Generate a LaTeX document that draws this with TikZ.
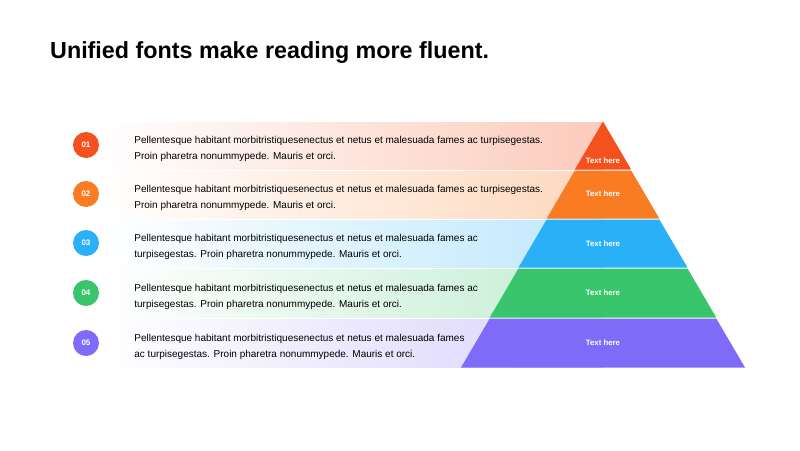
\documentclass[tikz,border=0pt]{standalone}
\usepackage{fontspec}
\setmainfont{Liberation Sans}
\usetikzlibrary{positioning}
\definecolor{tierA}{HTML}{F4511E}
\definecolor{tierB}{HTML}{F97C22}
\definecolor{tierC}{HTML}{29B0F7}
\definecolor{tierD}{HTML}{39C56B}
\definecolor{tierE}{HTML}{7F6BF7}
\begin{document}
\begin{tikzpicture}[
  x=1pt, y=-1pt,
  badge/.style={circle, minimum size=26pt, inner sep=0pt, text=white,
    font=\fontsize{8}{9}\selectfont\bfseries},
  bodytext/.style={anchor=west, align=left, inner sep=0pt,
    font=\fontsize{10}{16}\selectfont},
  tierlabel/.style={text=white, inner sep=0pt, font=\fontsize{7.8}{9}\selectfont\bfseries},
  headline/.style={anchor=west, inner sep=0pt, font=\fontsize{23.3}{28}\selectfont\bfseries}
]
\useasboundingbox (0,0) rectangle (800,450);

% Title
\node[headline] (title) at (50,53) {Unified fonts make reading more fluent.};

% Gradient bands behind the text
\foreach \top/\bot/\col in {121/170/tierA, 170/219/tierB, 219/268/tierC, 268/318/tierD, 318/368/tierE} {
  \shade[left color=white, right color=\col!30] (100,\top+1) rectangle (603,\bot-1);
}

% Pyramid tiers
\foreach \top/\bot/\col in {121/170/tierA, 170/219/tierB, 219/268/tierC, 268/318/tierD, 318/368/tierE} {
  \pgfmathsetmacro\wt{0.5749*(\top-121)}
  \pgfmathsetmacro\wb{0.5749*(\bot-121)}
  \fill[\col] (603-\wt,\top+0.5) -- (603+\wt,\top+0.5) -- (603+\wb,\bot-0.5) -- (603-\wb,\bot-0.5) -- cycle;
}

% Tier labels
\node[tierlabel] (tag1) at (603,161) {Text here};
\node[tierlabel] (tag2) at (603,194) {Text here};
\node[tierlabel] (tag3) at (603,244) {Text here};
\node[tierlabel] (tag4) at (603,293) {Text here};
\node[tierlabel] (tag5) at (603,343) {Text here};

% Numbered badges and descriptions
\foreach \i/\y/\col in {1/145/tierA, 2/194/tierB, 3/243/tierC, 4/293/tierD, 5/343/tierE} {
  \node[badge, fill=\col] (n\i) at (86,\y) {0\i};
}
\node[bodytext, right=35pt of n1.east, yshift=-3.5pt] (t1)
  {Pellentesque habitant morbitristiquesenectus et netus et malesuada fames ac turpisegestas.\\Proin pharetra nonummypede. Mauris et orci.};
\node[bodytext, right=35pt of n2.east, yshift=-3.5pt] (t2)
  {Pellentesque habitant morbitristiquesenectus et netus et malesuada fames ac turpisegestas.\\Proin pharetra nonummypede. Mauris et orci.};
\node[bodytext, right=35pt of n3.east, yshift=-3.5pt] (t3)
  {Pellentesque habitant morbitristiquesenectus et netus et malesuada fames ac\\turpisegestas. Proin pharetra nonummypede. Mauris et orci.};
\node[bodytext, right=35pt of n4.east, yshift=-3.5pt] (t4)
  {Pellentesque habitant morbitristiquesenectus et netus et malesuada fames ac\\turpisegestas. Proin pharetra nonummypede. Mauris et orci.};
\node[bodytext, right=35pt of n5.east, yshift=-3.5pt] (t5)
  {Pellentesque habitant morbitristiquesenectus et netus et malesuada fames\\ac turpisegestas. Proin pharetra nonummypede. Mauris et orci.};

\end{tikzpicture}
\end{document}
